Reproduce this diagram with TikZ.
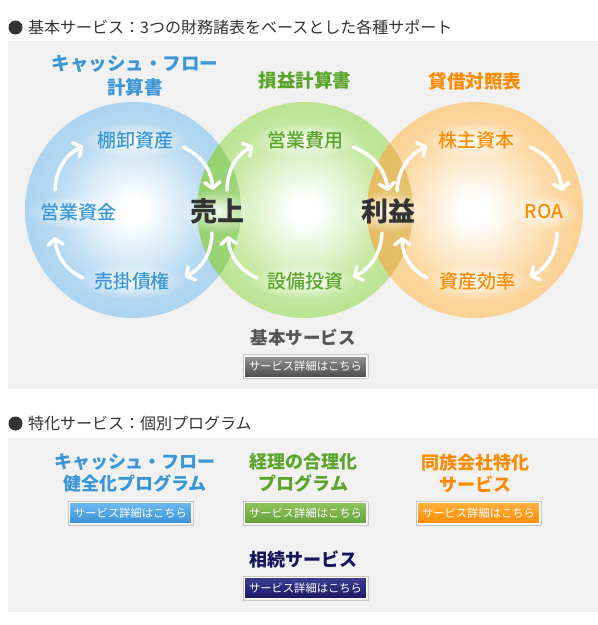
\documentclass[tikz,border=0pt]{standalone}
\usepackage{fontspec}
\setmainfont{Noto Sans CJK JP}[BoldFont={Noto Sans CJK JP Bold}]
\newfontfamily\heavy{Noto Sans CJK JP Black}
\newfontfamily\medium{Noto Sans CJK JP Medium}
\usetikzlibrary{arrows.meta,fadings}
\definecolor{panel}{HTML}{F1F1F1}
\definecolor{hdr}{HTML}{333333}
\definecolor{bedge}{HTML}{84BCE6}
\definecolor{bout}{HTML}{94C7EC}
\definecolor{bmid}{HTML}{B8DAF2}
\definecolor{gedge}{HTML}{96D360}
\definecolor{gout}{HTML}{A4D972}
\definecolor{gmid}{HTML}{C6E9A4}
\definecolor{oedge}{HTML}{F6B85E}
\definecolor{oout}{HTML}{F8C472}
\definecolor{omid}{HTML}{FCD9A6}
\definecolor{lensbg}{HTML}{5EB83A}
\definecolor{lensgo}{HTML}{D0A830}
\definecolor{tblue}{HTML}{3A96D8}
\definecolor{tgreen}{HTML}{5AA42A}
\definecolor{torange}{HTML}{FF8C00}
\definecolor{tnavy}{HTML}{14145E}
\definecolor{tgray}{HTML}{555555}
\definecolor{frame}{HTML}{C8C8C8}
\pgfdeclareradialshading{blueball}{\pgfpoint{0bp}{0bp}}{color(0bp)=(white); color(3bp)=(white); color(18bp)=(bmid); color(38bp)=(bout); color(50bp)=(bedge)}
\pgfdeclareradialshading{greenball}{\pgfpoint{0bp}{0bp}}{color(0bp)=(white); color(3bp)=(white); color(18bp)=(gmid); color(38bp)=(gout); color(50bp)=(gedge)}
\pgfdeclareradialshading{orangeball}{\pgfpoint{0bp}{0bp}}{color(0bp)=(white); color(3bp)=(white); color(18bp)=(omid); color(38bp)=(oout); color(50bp)=(oedge)}
\tikzfading[name=glowfade, inner color=transparent!0, outer color=transparent!100]
\tikzset{
  hdrtext/.style={anchor=west, inner sep=0, text=hdr, font=\fontsize{16}{19}\selectfont},
  title/.style={align=center, inner sep=0, font=\heavy\fontsize{18.5}{24}\selectfont},
  subtitle/.style={align=center, inner sep=0, font=\heavy\fontsize{18}{22}\selectfont},
  lbl/.style={inner sep=0, font=\medium\fontsize{19}{22}\selectfont},
  big/.style={inner sep=0, text=hdr, font=\heavy\fontsize{27}{30}\selectfont},
  glow/.style={white, path fading=glowfade, opacity=0.9},
  arr/.style={draw=white, line width=3.5pt, line cap=round, -{Straight Barb[length=6pt,width=15pt,round]}},
  btn/.style={minimum width=122pt, minimum height=21pt, inner sep=0, text=white, draw=white, line width=1pt, font=\fontsize{11.3}{12}\selectfont},
  btnframe/.style={draw=frame, line width=1pt},
}
\begin{document}
\begin{tikzpicture}[x=1pt,y=-1pt]
\useasboundingbox (0,0) rectangle (598,625);
\fill[white] (0,0) rectangle (598,625);
% headers
\fill[hdr] (15.5,27.5) circle (7);
\node[hdrtext] (h1) at (28,27.5) {基本サービス：3つの財務諸表をベースとした各種サポート};
\fill[panel] (8,41) rectangle (598,389);
\fill[hdr] (15.5,423.5) circle (7);
\node[hdrtext] (h2) at (28,423.5) {特化サービス：個別プログラム};
\fill[panel] (8,438) rectangle (598,612);
% circles
\shade[shading=blueball] (133,210) circle (108);
\shade[shading=greenball] (305,210) circle (108);
\shade[shading=orangeball] (475,210) circle (108);
\begin{scope}
  \clip (133,210) circle (108);
  \fill[lensbg, opacity=0.4] (305,210) circle (108);
\end{scope}
\begin{scope}
  \clip (305,210) circle (108);
  \fill[lensgo, opacity=0.5] (475,210) circle (108);
\end{scope}
% glows behind labels
\foreach \p in {(135,140),(79,212),(132,281),(305,140),(305,281),(476,140),(477,281)}
  \fill[glow] \p ellipse (54 and 18);
\fill[glow] (544,212) ellipse (34 and 18);
\fill[glow] (217,211) ellipse (38 and 22);
\fill[glow] (388,211) ellipse (38 and 22);
% titles
\node[title, text=tblue] (t1) at (135,76) {キャッシュ・フロー\\計算書};
\node[title, text=tgreen] (t2) at (305,80) {損益計算書};
\node[title, text=torange] (t3) at (475,81) {貸借対照表};
% labels
\node[lbl, text=tblue] (n1) at (135,140) {棚卸資産};
\node[lbl, text=tblue] (n2) at (79,212) {営業資金};
\node[lbl, text=tblue] (n3) at (132,281) {売掛債権};
\node[lbl, text=tgreen] (n4) at (305,140) {営業費用};
\node[lbl, text=tgreen] (n5) at (305,281) {設備投資};
\node[lbl, text=torange] (n6) at (476,140) {株主資本};
\node[lbl, text=torange] (n7) at (544,212) {ROA};
\node[lbl, text=torange] (n8) at (477,281) {資産効率};
\node[big] (s1) at (217,211) {売上};
\node[big] (s2) at (388,211) {利益};
% arrow ends
\coordinate (b1s) at (55,190); \coordinate (b1e) at (83,146);
\coordinate (b2s) at (183,147); \coordinate (b2e) at (213,190);
\coordinate (b3s) at (212,233); \coordinate (b3e) at (185,277);
\coordinate (b4s) at (83,278); \coordinate (b4e) at (55,237);
\coordinate (g1s) at (227,190); \coordinate (g1e) at (253,146);
\coordinate (g2s) at (353,147); \coordinate (g2e) at (388,191);
\coordinate (g3s) at (382,233); \coordinate (g3e) at (353,277);
\coordinate (g4s) at (257,278); \coordinate (g4e) at (228,236);
\coordinate (o1s) at (397,191); \coordinate (o1e) at (427,146);
\coordinate (o2s) at (530,147); \coordinate (o2e) at (562,191);
\coordinate (o3s) at (557,233); \coordinate (o3e) at (530,277);
\coordinate (o4s) at (427,278); \coordinate (o4e) at (402,237);
\foreach \a in {b1,b2,b3,b4,g1,g2,g3,g4,o1,o2,o3,o4}
  \draw[arr] (\a s) to[bend left=30] (\a e);
% basic service
\node[inner sep=0, text=tgray, font=\heavy\fontsize{17.5}{20}\selectfont] (bs) at (303,337.5) {基本サービス};
\node[btn, top color=gray!85!white, bottom color=black!70] (k0) at (305.5,366.5) {サービス詳細はこちら};
% special services
\node[subtitle, text=tblue] (p1) at (135,473) {キャッシュ・フロー\\健全化プログラム};
\node[subtitle, text=tgreen] (p2) at (303.5,473) {経理の合理化\\プログラム};
\node[subtitle, text=torange] (p3) at (475,473) {同族会社特化\\サービス};
\node[inner sep=0, text=tnavy, font=\heavy\fontsize{18}{22}\selectfont] (p4) at (303,559.5) {相続サービス};
\node[btn, top color={rgb,255:red,110;green,185;blue,240}, bottom color={rgb,255:red,58;green,144;blue,216}] (k1) at (130.5,513) {サービス詳細はこちら};
\node[btn, top color={rgb,255:red,142;green,196;blue,92}, bottom color={rgb,255:red,100;green,160;blue,56}] (k2) at (305.5,513) {サービス詳細はこちら};
\node[btn, top color={rgb,255:red,255;green,178;blue,64}, bottom color={rgb,255:red,255;green,138;blue,0}] (k3) at (478.5,513) {サービス詳細はこちら};
\node[btn, top color={rgb,255:red,62;green,62;blue,146}, bottom color={rgb,255:red,24;green,24;blue,100}] (k4) at (305.5,588) {サービス詳細はこちら};
\foreach \k in {k0,k1,k2,k3,k4}
  \draw[btnframe] ([shift={(-1,1)}]\k.south west) rectangle ([shift={(1,-1)}]\k.north east);
\end{tikzpicture}
\end{document}
